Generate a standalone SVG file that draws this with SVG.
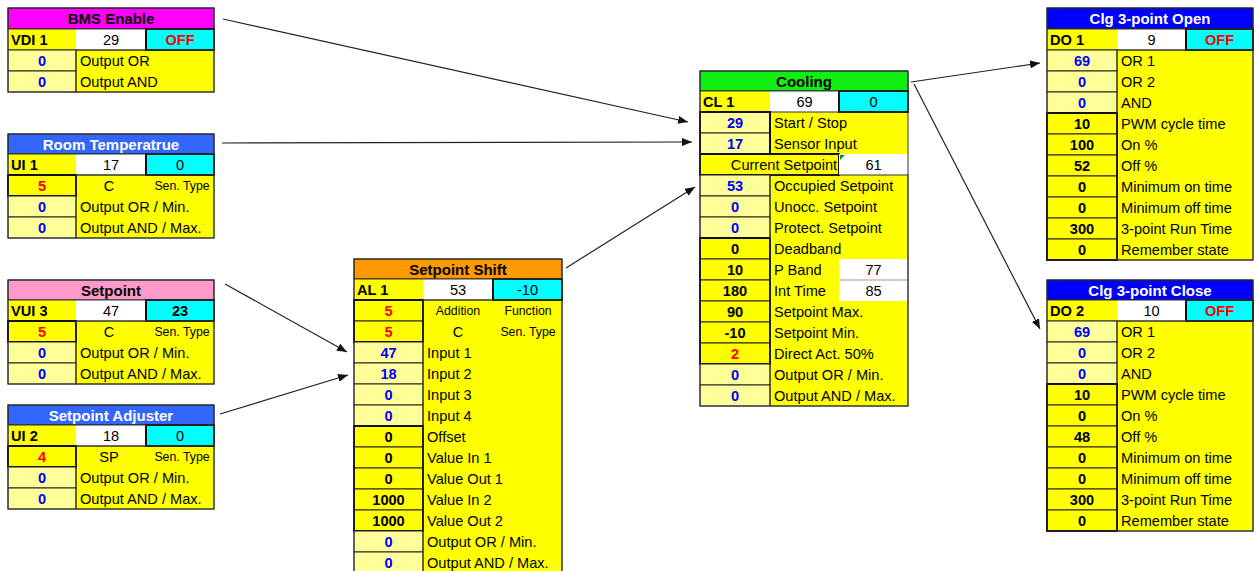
<svg xmlns="http://www.w3.org/2000/svg" width="1256" height="571" viewBox="0 0 1256 571">
<style>
text{font-family:"Liberation Sans",Arial,sans-serif;font-size:14.6px;fill:#000}
.tt{font-weight:bold;font-size:15px;text-anchor:middle}
.tw{fill:#fff}
.b{font-weight:bold}
.m{text-anchor:middle}
.bl{fill:#0000FF}
.rd{fill:#FF0000}
.s{font-size:12.3px}
.y{fill:#FFFF00}
.ly{fill:#FFFF99;stroke:#222;stroke-width:1}
.py{fill:#FFFF00;stroke:#222;stroke-width:1}
.w{fill:#FFFFFF}
.c{fill:#00FFFF;stroke:#111;stroke-width:2}
.g{fill:none;stroke:#111;stroke-width:2}
.o{fill:none;stroke:#333;stroke-width:1}
.h{stroke:#111;stroke-width:1}
.cn{stroke:#222;stroke-width:1.2;fill:none;marker-end:url(#ah)}
</style>
<defs>
<marker id="ah" markerUnits="userSpaceOnUse" markerWidth="11" markerHeight="8" refX="10" refY="4" orient="auto">
<path d="M0,0 L10,4 L0,8 z" fill="#111"/>
</marker>
</defs>

<g id="connectors">
<line class="cn" x1="223" y1="19" x2="688" y2="122"/>
<line class="cn" x1="222" y1="143" x2="692" y2="142"/>
<line class="cn" x1="225" y1="284" x2="347" y2="352"/>
<line class="cn" x1="220" y1="414" x2="348" y2="375"/>
<line class="cn" x1="566" y1="268" x2="695" y2="187"/>
<line class="cn" x1="911" y1="82" x2="1040" y2="63"/>
<line class="cn" x1="914" y1="84" x2="1040" y2="329"/>
</g>

<g id="bms-enable">
<rect x="8" y="8" width="206" height="21" fill="#FF00FF" class="h"/>
<rect class="y" x="8" y="29" width="206" height="63"/>
<rect class="w" x="76" y="29" width="70" height="21"/>
<rect class="c" x="146" y="29" width="68" height="21"/>
<rect class="o" x="8" y="29" width="206" height="21"/>
<rect class="ly" x="8" y="50" width="68" height="21"/>
<rect class="ly" x="8" y="71" width="68" height="21"/>
<rect class="o" x="76" y="50" width="138" height="42"/>
<rect class="o" x="8" y="8" width="206" height="84"/>
<text class="tt" x="111" y="24">BMS Enable</text>
<text class="b" x="11" y="45">VDI 1</text>
<text class="m" x="111" y="45">29</text>
<text class="b m rd" x="180" y="45">OFF</text>
<text class="b m bl" x="42" y="66">0</text>
<text x="80" y="66">Output OR</text>
<text class="b m bl" x="42" y="87">0</text>
<text x="80" y="87">Output AND</text>
</g>

<g id="room-temperature">
<rect x="8" y="134" width="206" height="20" fill="#3366FF" class="h"/>
<rect class="y" x="8" y="154" width="206" height="84"/>
<rect class="w" x="76" y="154" width="70" height="21"/>
<rect class="c" x="146" y="154" width="68" height="21"/>
<rect class="o" x="8" y="154" width="206" height="21"/>
<rect class="py" x="8" y="175" width="68" height="21"/>
<rect class="g" x="8" y="175" width="68" height="21"/>
<rect class="ly" x="8" y="196" width="68" height="21"/>
<rect class="ly" x="8" y="217" width="68" height="21"/>
<rect class="o" x="76" y="175" width="138" height="63"/>
<rect class="o" x="8" y="134" width="206" height="104"/>
<text class="tt tw" x="111" y="149.5">Room Temperatrue</text>
<text class="b" x="11" y="170">UI 1</text>
<text class="m" x="111" y="170">17</text>
<text class="m" x="180" y="170">0</text>
<text class="b m rd" x="42" y="191">5</text>
<text class="m" x="109" y="191">C</text>
<text class="m s" x="182" y="190">Sen. Type</text>
<text class="b m bl" x="42" y="212">0</text>
<text x="80" y="212">Output OR / Min.</text>
<text class="b m bl" x="42" y="233">0</text>
<text x="80" y="233">Output AND / Max.</text>
</g>

<g id="setpoint">
<rect x="8" y="280" width="206" height="20" fill="#FF99CC" class="h"/>
<rect class="y" x="8" y="300" width="206" height="84"/>
<rect class="w" x="76" y="300" width="70" height="21"/>
<rect class="c" x="146" y="300" width="68" height="21"/>
<rect class="o" x="8" y="300" width="206" height="21"/>
<rect class="py" x="8" y="321" width="68" height="21"/>
<rect class="g" x="8" y="321" width="68" height="21"/>
<rect class="ly" x="8" y="342" width="68" height="21"/>
<rect class="ly" x="8" y="363" width="68" height="21"/>
<rect class="o" x="76" y="321" width="138" height="63"/>
<rect class="o" x="8" y="280" width="206" height="104"/>
<text class="tt" x="111" y="295.5">Setpoint</text>
<text class="b" x="11" y="316">VUI 3</text>
<text class="m" x="111" y="316">47</text>
<text class="b m" x="180" y="316">23</text>
<text class="b m rd" x="42" y="337">5</text>
<text class="m" x="109" y="337">C</text>
<text class="m s" x="182" y="336">Sen. Type</text>
<text class="b m bl" x="42" y="358">0</text>
<text x="80" y="358">Output OR / Min.</text>
<text class="b m bl" x="42" y="379">0</text>
<text x="80" y="379">Output AND / Max.</text>
</g>

<g id="setpoint-adjuster">
<rect x="8" y="405" width="206" height="20" fill="#3366FF" class="h"/>
<rect class="y" x="8" y="425" width="206" height="84"/>
<rect class="w" x="76" y="425" width="70" height="21"/>
<rect class="c" x="146" y="425" width="68" height="21"/>
<rect class="o" x="8" y="425" width="206" height="21"/>
<rect class="py" x="8" y="446" width="68" height="21"/>
<rect class="g" x="8" y="446" width="68" height="21"/>
<rect class="ly" x="8" y="467" width="68" height="21"/>
<rect class="ly" x="8" y="488" width="68" height="21"/>
<rect class="o" x="76" y="446" width="138" height="63"/>
<rect class="o" x="8" y="405" width="206" height="104"/>
<text class="tt tw" x="111" y="420.5">Setpoint Adjuster</text>
<text class="b" x="11" y="441">UI 2</text>
<text class="m" x="111" y="441">18</text>
<text class="m" x="180" y="441">0</text>
<text class="b m rd" x="42" y="462">4</text>
<text class="m" x="109" y="462">SP</text>
<text class="m s" x="182" y="461">Sen. Type</text>
<text class="b m bl" x="42" y="483">0</text>
<text x="80" y="483">Output OR / Min.</text>
<text class="b m bl" x="42" y="504">0</text>
<text x="80" y="504">Output AND / Max.</text>
</g>

<g id="setpoint-shift">
<rect x="354" y="259" width="208" height="20" fill="#FF9900" class="h"/>
<rect class="y" x="354" y="279" width="208" height="294"/>
<rect class="w" x="423" y="279" width="70" height="21"/>
<rect class="c" x="493" y="279" width="69" height="21"/>
<rect class="o" x="354" y="279" width="208" height="21"/>
<rect class="py" x="354" y="300" width="69" height="21"/>
<rect class="py" x="354" y="321" width="69" height="21"/>
<rect class="g" x="354" y="300" width="69" height="42"/>
<rect class="ly" x="354" y="342" width="69" height="21"/>
<rect class="ly" x="354" y="363" width="69" height="21"/>
<rect class="ly" x="354" y="384" width="69" height="21"/>
<rect class="ly" x="354" y="405" width="69" height="21"/>
<rect class="py" x="354" y="426" width="69" height="21"/>
<rect class="py" x="354" y="447" width="69" height="21"/>
<rect class="py" x="354" y="468" width="69" height="21"/>
<rect class="py" x="354" y="489" width="69" height="21"/>
<rect class="py" x="354" y="510" width="69" height="21"/>
<rect class="g" x="354" y="426" width="69" height="105"/>
<rect class="ly" x="354" y="531" width="69" height="21"/>
<rect class="ly" x="354" y="552" width="69" height="21"/>
<rect class="o" x="423" y="300" width="139" height="273"/>
<rect class="o" x="354" y="259" width="208" height="314"/>
<text class="tt" x="458" y="274.5">Setpoint Shift</text>
<text class="b" x="357" y="295">AL 1</text>
<text class="m" x="458" y="295">53</text>
<text class="m" x="527.5" y="295">-10</text>
<text class="b m rd" x="388.5" y="316">5</text>
<text class="m s" x="458" y="315">Addition</text>
<text class="m s" x="528" y="315">Function</text>
<text class="b m rd" x="388.5" y="337">5</text>
<text class="m" x="458" y="337">C</text>
<text class="m s" x="528" y="336">Sen. Type</text>
<text class="b m bl" x="388.5" y="358">47</text>
<text x="427" y="358">Input 1</text>
<text class="b m bl" x="388.5" y="379">18</text>
<text x="427" y="379">Input 2</text>
<text class="b m bl" x="388.5" y="400">0</text>
<text x="427" y="400">Input 3</text>
<text class="b m bl" x="388.5" y="421">0</text>
<text x="427" y="421">Input 4</text>
<text class="b m" x="388.5" y="442">0</text>
<text x="427" y="442">Offset</text>
<text class="b m" x="388.5" y="463">0</text>
<text x="427" y="463">Value In 1</text>
<text class="b m" x="388.5" y="484">0</text>
<text x="427" y="484">Value Out 1</text>
<text class="b m" x="388.5" y="505">1000</text>
<text x="427" y="505">Value In 2</text>
<text class="b m" x="388.5" y="526">1000</text>
<text x="427" y="526">Value Out 2</text>
<text class="b m bl" x="388.5" y="547">0</text>
<text x="427" y="547">Output OR / Min.</text>
<text class="b m bl" x="388.5" y="568">0</text>
<text x="427" y="568">Output AND / Max.</text>
</g>

<g id="cooling">
<rect x="700" y="71" width="208" height="20" fill="#11EE11" class="h"/>
<rect class="y" x="700" y="91" width="208" height="315"/>
<rect class="w" x="770" y="91" width="69" height="21"/>
<rect class="c" x="839" y="91" width="69" height="21"/>
<rect class="o" x="700" y="91" width="208" height="21"/>
<rect class="ly" x="700" y="112" width="70" height="21"/>
<rect class="ly" x="700" y="133" width="70" height="21"/>
<rect class="g" x="700" y="112" width="70" height="42"/>
<rect class="py" x="700" y="154" width="139" height="21"/>
<rect class="g" x="700" y="154" width="139" height="21"/>
<rect class="w" x="839" y="154" width="69" height="21"/>
<polygon points="840,155 845,155 840,160" fill="#1a8a1a"/>
<rect class="ly" x="700" y="175" width="70" height="21"/>
<rect class="ly" x="700" y="196" width="70" height="21"/>
<rect class="ly" x="700" y="217" width="70" height="21"/>
<rect class="py" x="700" y="238" width="70" height="21"/>
<rect class="py" x="700" y="259" width="70" height="21"/>
<rect class="py" x="700" y="280" width="70" height="21"/>
<rect class="py" x="700" y="301" width="70" height="21"/>
<rect class="py" x="700" y="322" width="70" height="21"/>
<rect class="py" x="700" y="343" width="70" height="21"/>
<rect class="g" x="700" y="238" width="70" height="126"/>
<rect class="w" x="839" y="259" width="69" height="42"/>
<line x1="839" y1="280" x2="908" y2="280" stroke="#999" stroke-width="1"/>
<rect class="ly" x="700" y="364" width="70" height="21"/>
<rect class="ly" x="700" y="385" width="70" height="21"/>
<rect class="o" x="770" y="175" width="138" height="231"/>
<rect class="o" x="700" y="71" width="208" height="335"/>
<text class="tt" x="804" y="86.5">Cooling</text>
<text class="b" x="703" y="107">CL 1</text>
<text class="m" x="804.5" y="107">69</text>
<text class="m" x="873.5" y="107">0</text>
<text class="b m bl" x="735" y="128">29</text>
<text x="774" y="128">Start / Stop</text>
<text class="b m bl" x="735" y="149">17</text>
<text x="774" y="149">Sensor Input</text>
<text class="m" x="784" y="170">Current Setpoint</text>
<text class="m" x="873.5" y="170">61</text>
<text class="b m bl" x="735" y="191">53</text>
<text x="774" y="191">Occupied Setpoint</text>
<text class="b m bl" x="735" y="212">0</text>
<text x="774" y="212">Unocc. Setpoint</text>
<text class="b m bl" x="735" y="233">0</text>
<text x="774" y="233">Protect. Setpoint</text>
<text class="b m" x="735" y="254">0</text>
<text x="774" y="254">Deadband</text>
<text class="b m" x="735" y="275">10</text>
<text x="774" y="275">P Band</text>
<text class="m" x="873.5" y="275">77</text>
<text class="b m" x="735" y="296">180</text>
<text x="774" y="296">Int Time</text>
<text class="m" x="873.5" y="296">85</text>
<text class="b m" x="735" y="317">90</text>
<text x="774" y="317">Setpoint Max.</text>
<text class="b m" x="735" y="338">-10</text>
<text x="774" y="338">Setpoint Min.</text>
<text class="b m rd" x="735" y="359">2</text>
<text x="774" y="359">Direct Act. 50%</text>
<text class="b m bl" x="735" y="380">0</text>
<text x="774" y="380">Output OR / Min.</text>
<text class="b m bl" x="735" y="401">0</text>
<text x="774" y="401">Output AND / Max.</text>
</g>

<g id="clg-open">
<rect x="1047" y="8" width="206" height="21" fill="#0000FF" class="h"/>
<rect class="y" x="1047" y="29" width="206" height="231"/>
<rect class="w" x="1117" y="29" width="69" height="21"/>
<rect class="c" x="1186" y="29" width="67" height="21"/>
<rect class="o" x="1047" y="29" width="206" height="21"/>
<rect class="ly" x="1047" y="50" width="70" height="21"/>
<rect class="ly" x="1047" y="71" width="70" height="21"/>
<rect class="ly" x="1047" y="92" width="70" height="21"/>
<rect class="py" x="1047" y="113" width="70" height="21"/>
<rect class="py" x="1047" y="134" width="70" height="21"/>
<rect class="py" x="1047" y="155" width="70" height="21"/>
<rect class="py" x="1047" y="176" width="70" height="21"/>
<rect class="py" x="1047" y="197" width="70" height="21"/>
<rect class="py" x="1047" y="218" width="70" height="21"/>
<rect class="py" x="1047" y="239" width="70" height="21"/>
<rect class="g" x="1047" y="113" width="70" height="147"/>
<rect class="o" x="1117" y="50" width="136" height="210"/>
<rect class="o" x="1047" y="8" width="206" height="252"/>
<text class="tt tw" x="1150" y="24">Clg 3-point Open</text>
<text class="b" x="1050" y="45">DO 1</text>
<text class="m" x="1151.5" y="45">9</text>
<text class="b m rd" x="1219.5" y="45">OFF</text>
<text class="b m bl" x="1082" y="66">69</text>
<text x="1121" y="66">OR 1</text>
<text class="b m bl" x="1082" y="87">0</text>
<text x="1121" y="87">OR 2</text>
<text class="b m bl" x="1082" y="108">0</text>
<text x="1121" y="108">AND</text>
<text class="b m" x="1082" y="129">10</text>
<text x="1121" y="129">PWM cycle time</text>
<text class="b m" x="1082" y="150">100</text>
<text x="1121" y="150">On %</text>
<text class="b m" x="1082" y="171">52</text>
<text x="1121" y="171">Off %</text>
<text class="b m" x="1082" y="192">0</text>
<text x="1121" y="192">Minimum on time</text>
<text class="b m" x="1082" y="213">0</text>
<text x="1121" y="213">Minimum off time</text>
<text class="b m" x="1082" y="234">300</text>
<text x="1121" y="234">3-point Run Time</text>
<text class="b m" x="1082" y="255">0</text>
<text x="1121" y="255">Remember state</text>
</g>

<g id="clg-close">
<rect x="1047" y="280" width="206" height="20" fill="#0000FF" class="h"/>
<rect class="y" x="1047" y="300" width="206" height="231"/>
<rect class="w" x="1117" y="300" width="69" height="21"/>
<rect class="c" x="1186" y="300" width="67" height="21"/>
<rect class="o" x="1047" y="300" width="206" height="21"/>
<rect class="ly" x="1047" y="321" width="70" height="21"/>
<rect class="ly" x="1047" y="342" width="70" height="21"/>
<rect class="ly" x="1047" y="363" width="70" height="21"/>
<rect class="py" x="1047" y="384" width="70" height="21"/>
<rect class="py" x="1047" y="405" width="70" height="21"/>
<rect class="py" x="1047" y="426" width="70" height="21"/>
<rect class="py" x="1047" y="447" width="70" height="21"/>
<rect class="py" x="1047" y="468" width="70" height="21"/>
<rect class="py" x="1047" y="489" width="70" height="21"/>
<rect class="py" x="1047" y="510" width="70" height="21"/>
<rect class="g" x="1047" y="384" width="70" height="147"/>
<rect class="o" x="1117" y="321" width="136" height="210"/>
<rect class="o" x="1047" y="280" width="206" height="251"/>
<text class="tt tw" x="1150" y="295.5">Clg 3-point Close</text>
<text class="b" x="1050" y="316">DO 2</text>
<text class="m" x="1151.5" y="316">10</text>
<text class="b m rd" x="1219.5" y="316">OFF</text>
<text class="b m bl" x="1082" y="337">69</text>
<text x="1121" y="337">OR 1</text>
<text class="b m bl" x="1082" y="358">0</text>
<text x="1121" y="358">OR 2</text>
<text class="b m bl" x="1082" y="379">0</text>
<text x="1121" y="379">AND</text>
<text class="b m" x="1082" y="400">10</text>
<text x="1121" y="400">PWM cycle time</text>
<text class="b m" x="1082" y="421">0</text>
<text x="1121" y="421">On %</text>
<text class="b m" x="1082" y="442">48</text>
<text x="1121" y="442">Off %</text>
<text class="b m" x="1082" y="463">0</text>
<text x="1121" y="463">Minimum on time</text>
<text class="b m" x="1082" y="484">0</text>
<text x="1121" y="484">Minimum off time</text>
<text class="b m" x="1082" y="505">300</text>
<text x="1121" y="505">3-point Run Time</text>
<text class="b m" x="1082" y="526">0</text>
<text x="1121" y="526">Remember state</text>
</g>
</svg>
